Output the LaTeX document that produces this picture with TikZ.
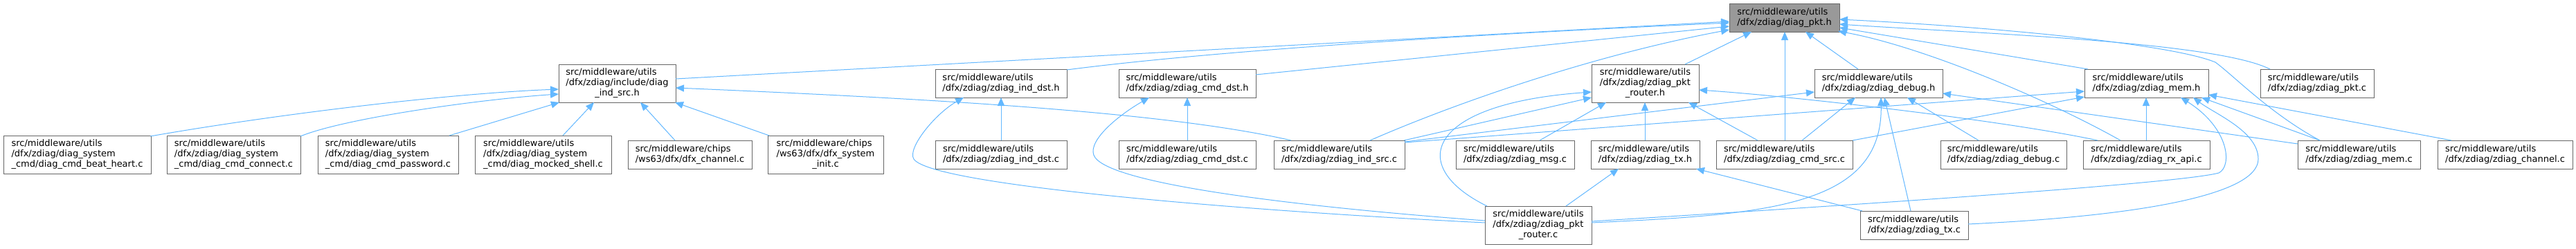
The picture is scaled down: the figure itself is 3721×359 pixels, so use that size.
\documentclass[tikz,border=0pt]{standalone}
\usepackage{fontspec}
\setmainfont{DejaVu Sans}
\usetikzlibrary{arrows.meta}
\definecolor{edgeblue}{HTML}{63B8FF}
\definecolor{boxgray}{HTML}{666666}
\definecolor{mainfill}{HTML}{999999}
\newcommand{\twol}[2]{\begin{tabular}{@{}l@{}}#1\\\multicolumn{1}{@{}c@{}}{#2}\end{tabular}}
\newcommand{\threel}[3]{\begin{tabular}{@{}l@{}}#1\\#2\\\multicolumn{1}{@{}c@{}}{#3}\end{tabular}}
\begin{document}
\begin{tikzpicture}[x=1pt,y=-1pt,
  box/.style={draw=boxgray, fill=white, line width=1pt, inner sep=0pt, outer sep=0pt, anchor=north west,
    font=\fontsize{13}{15}\selectfont},
  mainbox/.style={box, fill=mainfill},
  edge/.style={draw=edgeblue, line width=1pt, -{Triangle[length=12pt,width=10pt]}}]
\fill[white] (0,0) rectangle (3721,359);
\useasboundingbox (0,0) rectangle (3721,359);
% top
\node[mainbox, minimum width=159, minimum height=41] (pkth) at (2498,5) {\twol{src/middleware/utils}{/dfx/zdiag/diag\_pkt.h}};
% middle row
\node[box, minimum width=169, minimum height=55] (indsrch) at (807,93) {\threel{src/middleware/utils}{/dfx/zdiag/include/diag}{\_ind\_src.h}};
\node[box, minimum width=190, minimum height=41] (inddsth) at (1351,100) {\twol{src/middleware/utils}{/dfx/zdiag/zdiag\_ind\_dst.h}};
\node[box, minimum width=198, minimum height=41] (cmddsth) at (1616,100) {\twol{src/middleware/utils}{/dfx/zdiag/zdiag\_cmd\_dst.h}};
\node[box, minimum width=155, minimum height=55] (routerh) at (2299,93) {\threel{src/middleware/utils}{/dfx/zdiag/zdiag\_pkt}{\_router.h}};
\node[box, minimum width=185, minimum height=41] (debugh) at (2621,100) {\twol{src/middleware/utils}{/dfx/zdiag/zdiag\_debug.h}};
\node[box, minimum width=179, minimum height=41] (memh) at (3011,100) {\twol{src/middleware/utils}{/dfx/zdiag/zdiag\_mem.h}};
\node[box, minimum width=164, minimum height=41] (pktc) at (3265,100) {\twol{src/middleware/utils}{/dfx/zdiag/zdiag\_pkt.c}};
% bottom row
\node[box, minimum width=213, minimum height=55] (beat) at (5,196) {\threel{src/middleware/utils}{/dfx/zdiag/diag\_system}{\_cmd/diag\_cmd\_beat\_heart.c}};
\node[box, minimum width=193, minimum height=55] (connect) at (241,196) {\threel{src/middleware/utils}{/dfx/zdiag/diag\_system}{\_cmd/diag\_cmd\_connect.c}};
\node[box, minimum width=203, minimum height=55] (password) at (459,196) {\threel{src/middleware/utils}{/dfx/zdiag/diag\_system}{\_cmd/diag\_cmd\_password.c}};
\node[box, minimum width=197, minimum height=55] (mocked) at (686,196) {\threel{src/middleware/utils}{/dfx/zdiag/diag\_system}{\_cmd/diag\_mocked\_shell.c}};
\node[box, minimum width=179, minimum height=41] (dfxchan) at (907,203) {\twol{src/middleware/chips}{/ws63/dfx/dfx\_channel.c}};
\node[box, minimum width=167, minimum height=55] (sysinit) at (1109,196) {\threel{src/middleware/chips}{/ws63/dfx/dfx\_system}{\_init.c}};
\node[box, minimum width=190, minimum height=41] (inddstc) at (1351,203) {\twol{src/middleware/utils}{/dfx/zdiag/zdiag\_ind\_dst.c}};
\node[box, minimum width=198, minimum height=41] (cmddstc) at (1616,203) {\twol{src/middleware/utils}{/dfx/zdiag/zdiag\_cmd\_dst.c}};
\node[box, minimum width=189, minimum height=41] (indsrcc) at (1840,203) {\twol{src/middleware/utils}{/dfx/zdiag/zdiag\_ind\_src.c}};
\node[box, minimum width=171, minimum height=41] (msgc) at (2103,203) {\twol{src/middleware/utils}{/dfx/zdiag/zdiag\_msg.c}};
\node[box, minimum width=157, minimum height=41] (txh) at (2298,203) {\twol{src/middleware/utils}{/dfx/zdiag/zdiag\_tx.h}};
\node[box, minimum width=197, minimum height=41] (cmdsrcc) at (2479,203) {\twol{src/middleware/utils}{/dfx/zdiag/zdiag\_cmd\_src.c}};
\node[box, minimum width=182, minimum height=41] (debugc) at (2803,203) {\twol{src/middleware/utils}{/dfx/zdiag/zdiag\_debug.c}};
\node[box, minimum width=183, minimum height=41] (rxapic) at (3009,203) {\twol{src/middleware/utils}{/dfx/zdiag/zdiag\_rx\_api.c}};
\node[box, minimum width=177, minimum height=41] (memc) at (3319,203) {\twol{src/middleware/utils}{/dfx/zdiag/zdiag\_mem.c}};
\node[box, minimum width=195, minimum height=41] (chanc) at (3521,203) {\twol{src/middleware/utils}{/dfx/zdiag/zdiag\_channel.c}};
% lowest row
\node[box, minimum width=154, minimum height=55] (routerc) at (2145,298) {\threel{src/middleware/utils}{/dfx/zdiag/zdiag\_pkt}{\_router.c}};
\node[box, minimum width=156, minimum height=41] (txc) at (2687,305) {\twol{src/middleware/utils}{/dfx/zdiag/zdiag\_tx.c}};
% edges into diag_pkt.h
\draw[edge] ([shift={(169,21)}]indsrch.north west) -- ([shift={(0,26)}]pkth.north west);
\draw[edge] ([shift={(190,1)}]inddsth.north west) .. controls (1640,88) and (1900,60) .. ([shift={(0,28)}]pkth.north west);
\draw[edge] ([shift={(198,8)}]cmddsth.north west) -- ([shift={(0,33)}]pkth.north west);
\draw[edge] ([shift={(139,0)}]indsrcc.north west) .. controls (2100,150) and (2300,80) .. ([shift={(0,38)}]pkth.north west);
\draw[edge] ([shift={(135,0)}]routerh.north west) -- ([shift={(32,41)}]pkth.north west);
\draw[edge] ([shift={(99,0)}]cmdsrcc.north west) -- ([shift={(80,41)}]pkth.north west);
\draw[edge] ([shift={(63,0)}]debugh.north west) -- ([shift={(110,41)}]pkth.north west);
\draw[edge] ([shift={(54,0)}]rxapic.north west) .. controls (2960,145) and (2780,68) .. ([shift={(157,40)}]pkth.north west);
\draw[edge] ([shift={(5,0)}]memh.north west) -- ([shift={(159,35)}]pkth.north west);
\draw[edge] ([shift={(14,0)}]pktc.north west) .. controls (3200,60) and (2850,48) .. ([shift={(159,30)}]pkth.north west);
\draw[edge] ([shift={(32,0)}]memc.north west) .. controls (3280,165) and (3225,108) .. (3200,90) .. controls (3140,65) and (2900,40) .. ([shift={(159,23)}]pkth.north west);
% edges into diag_ind_src.h
\draw[edge] ([shift={(212,1)}]beat.north west) .. controls (400,165) and (650,135) .. ([shift={(0,36)}]indsrch.north west);
\draw[edge] ([shift={(193,1)}]connect.north west) .. controls (500,170) and (700,143) .. ([shift={(0,43)}]indsrch.north west);
\draw[edge] ([shift={(190,0)}]password.north west) -- ([shift={(1,55)}]indsrch.north west);
\draw[edge] ([shift={(127,0)}]mocked.north west) -- ([shift={(51,55)}]indsrch.north west);
\draw[edge] ([shift={(68,0)}]dfxchan.north west) -- ([shift={(118,55)}]indsrch.north west);
\draw[edge] ([shift={(2,0)}]sysinit.north west) -- ([shift={(168,55)}]indsrch.north west);
\draw[edge] ([shift={(25,0)}]indsrcc.north west) .. controls (1700,165) and (1400,145) .. ([shift={(169,34)}]indsrch.north west);
% ind_dst.h and cmd_dst.h
\draw[edge] ([shift={(95,0)}]inddstc.north west) -- ([shift={(95,41)}]inddsth.north west);
\draw[edge] ([shift={(0,24)}]routerc.north west) .. controls (1800,305) and (1345,268) .. (1320,230) .. controls (1310,215) and (1350,165) .. ([shift={(41,41)}]inddsth.north west);
\draw[edge] ([shift={(99,0)}]cmddstc.north west) -- ([shift={(99,41)}]cmddsth.north west);
\draw[edge] ([shift={(0,21)}]routerc.north west) .. controls (1850,297) and (1610,265) .. (1582,228) .. controls (1567,208) and (1610,170) .. ([shift={(44,41)}]cmddsth.north west);
% pkt_router.h
\draw[edge] ([shift={(188,0)}]indsrcc.north west) -- ([shift={(0,48)}]routerh.north west);
\draw[edge] ([shift={(121,0)}]msgc.north west) -- ([shift={(21,55)}]routerh.north west);
\draw[edge] ([shift={(78,0)}]txh.north west) -- ([shift={(77,55)}]routerh.north west);
\draw[edge] ([shift={(3,0)}]routerc.north west) .. controls (2030,240) and (2060,150) .. ([shift={(0,40)}]routerh.north west);
\draw[edge] ([shift={(60,0)}]cmdsrcc.north west) -- ([shift={(140,55)}]routerh.north west);
\draw[edge] ([shift={(21,0)}]rxapic.north west) .. controls (2900,175) and (2600,140) .. ([shift={(155,37)}]routerh.north west);
% debug.h
\draw[edge] ([shift={(189,2)}]indsrcc.north west) -- ([shift={(0,33)}]debugh.north west);
\draw[edge] ([shift={(124,0)}]cmdsrcc.north west) -- ([shift={(59,41)}]debugh.north west);
\draw[edge] ([shift={(55,0)}]debugc.north west) -- ([shift={(134,41)}]debugh.north west);
\draw[edge] ([shift={(73,0)}]txc.north west) -- ([shift={(101,41)}]debugh.north west);
\draw[edge] ([shift={(154,24)}]routerc.north west) .. controls (2550,310) and (2720,300) .. ([shift={(96,41)}]debugh.north west);
\draw[edge] ([shift={(0,5)}]memc.north west) -- ([shift={(185,35)}]debugh.north west);
% mem.h
\draw[edge] ([shift={(189,3)}]indsrcc.north west) -- ([shift={(0,32)}]memh.north west);
\draw[edge] ([shift={(197,0)}]cmdsrcc.north west) -- ([shift={(0,40)}]memh.north west);
\draw[edge] ([shift={(91,0)}]rxapic.north west) -- ([shift={(89,41)}]memh.north west);
\draw[edge] ([shift={(154,22)}]routerc.north west) .. controls (2700,295) and (3150,265) .. (3205,250) .. controls (3225,240) and (3220,185) .. ([shift={(139,41)}]memh.north west);
\draw[edge] ([shift={(156,19)}]txc.north west) .. controls (3100,312) and (3262,280) .. (3262,230) .. controls (3262,190) and (3200,165) .. ([shift={(157,41)}]memh.north west);
\draw[edge] ([shift={(32,0)}]memc.north west) -- ([shift={(169,41)}]memh.north west);
\draw[edge] ([shift={(20,0)}]chanc.north west) -- ([shift={(179,37)}]memh.north west);
% tx.h
\draw[edge] ([shift={(117,0)}]routerc.north west) -- ([shift={(40,41)}]txh.north west);
\draw[edge] ([shift={(3,0)}]txc.north west) -- ([shift={(152,41)}]txh.north west);
\end{tikzpicture}
\end{document}
